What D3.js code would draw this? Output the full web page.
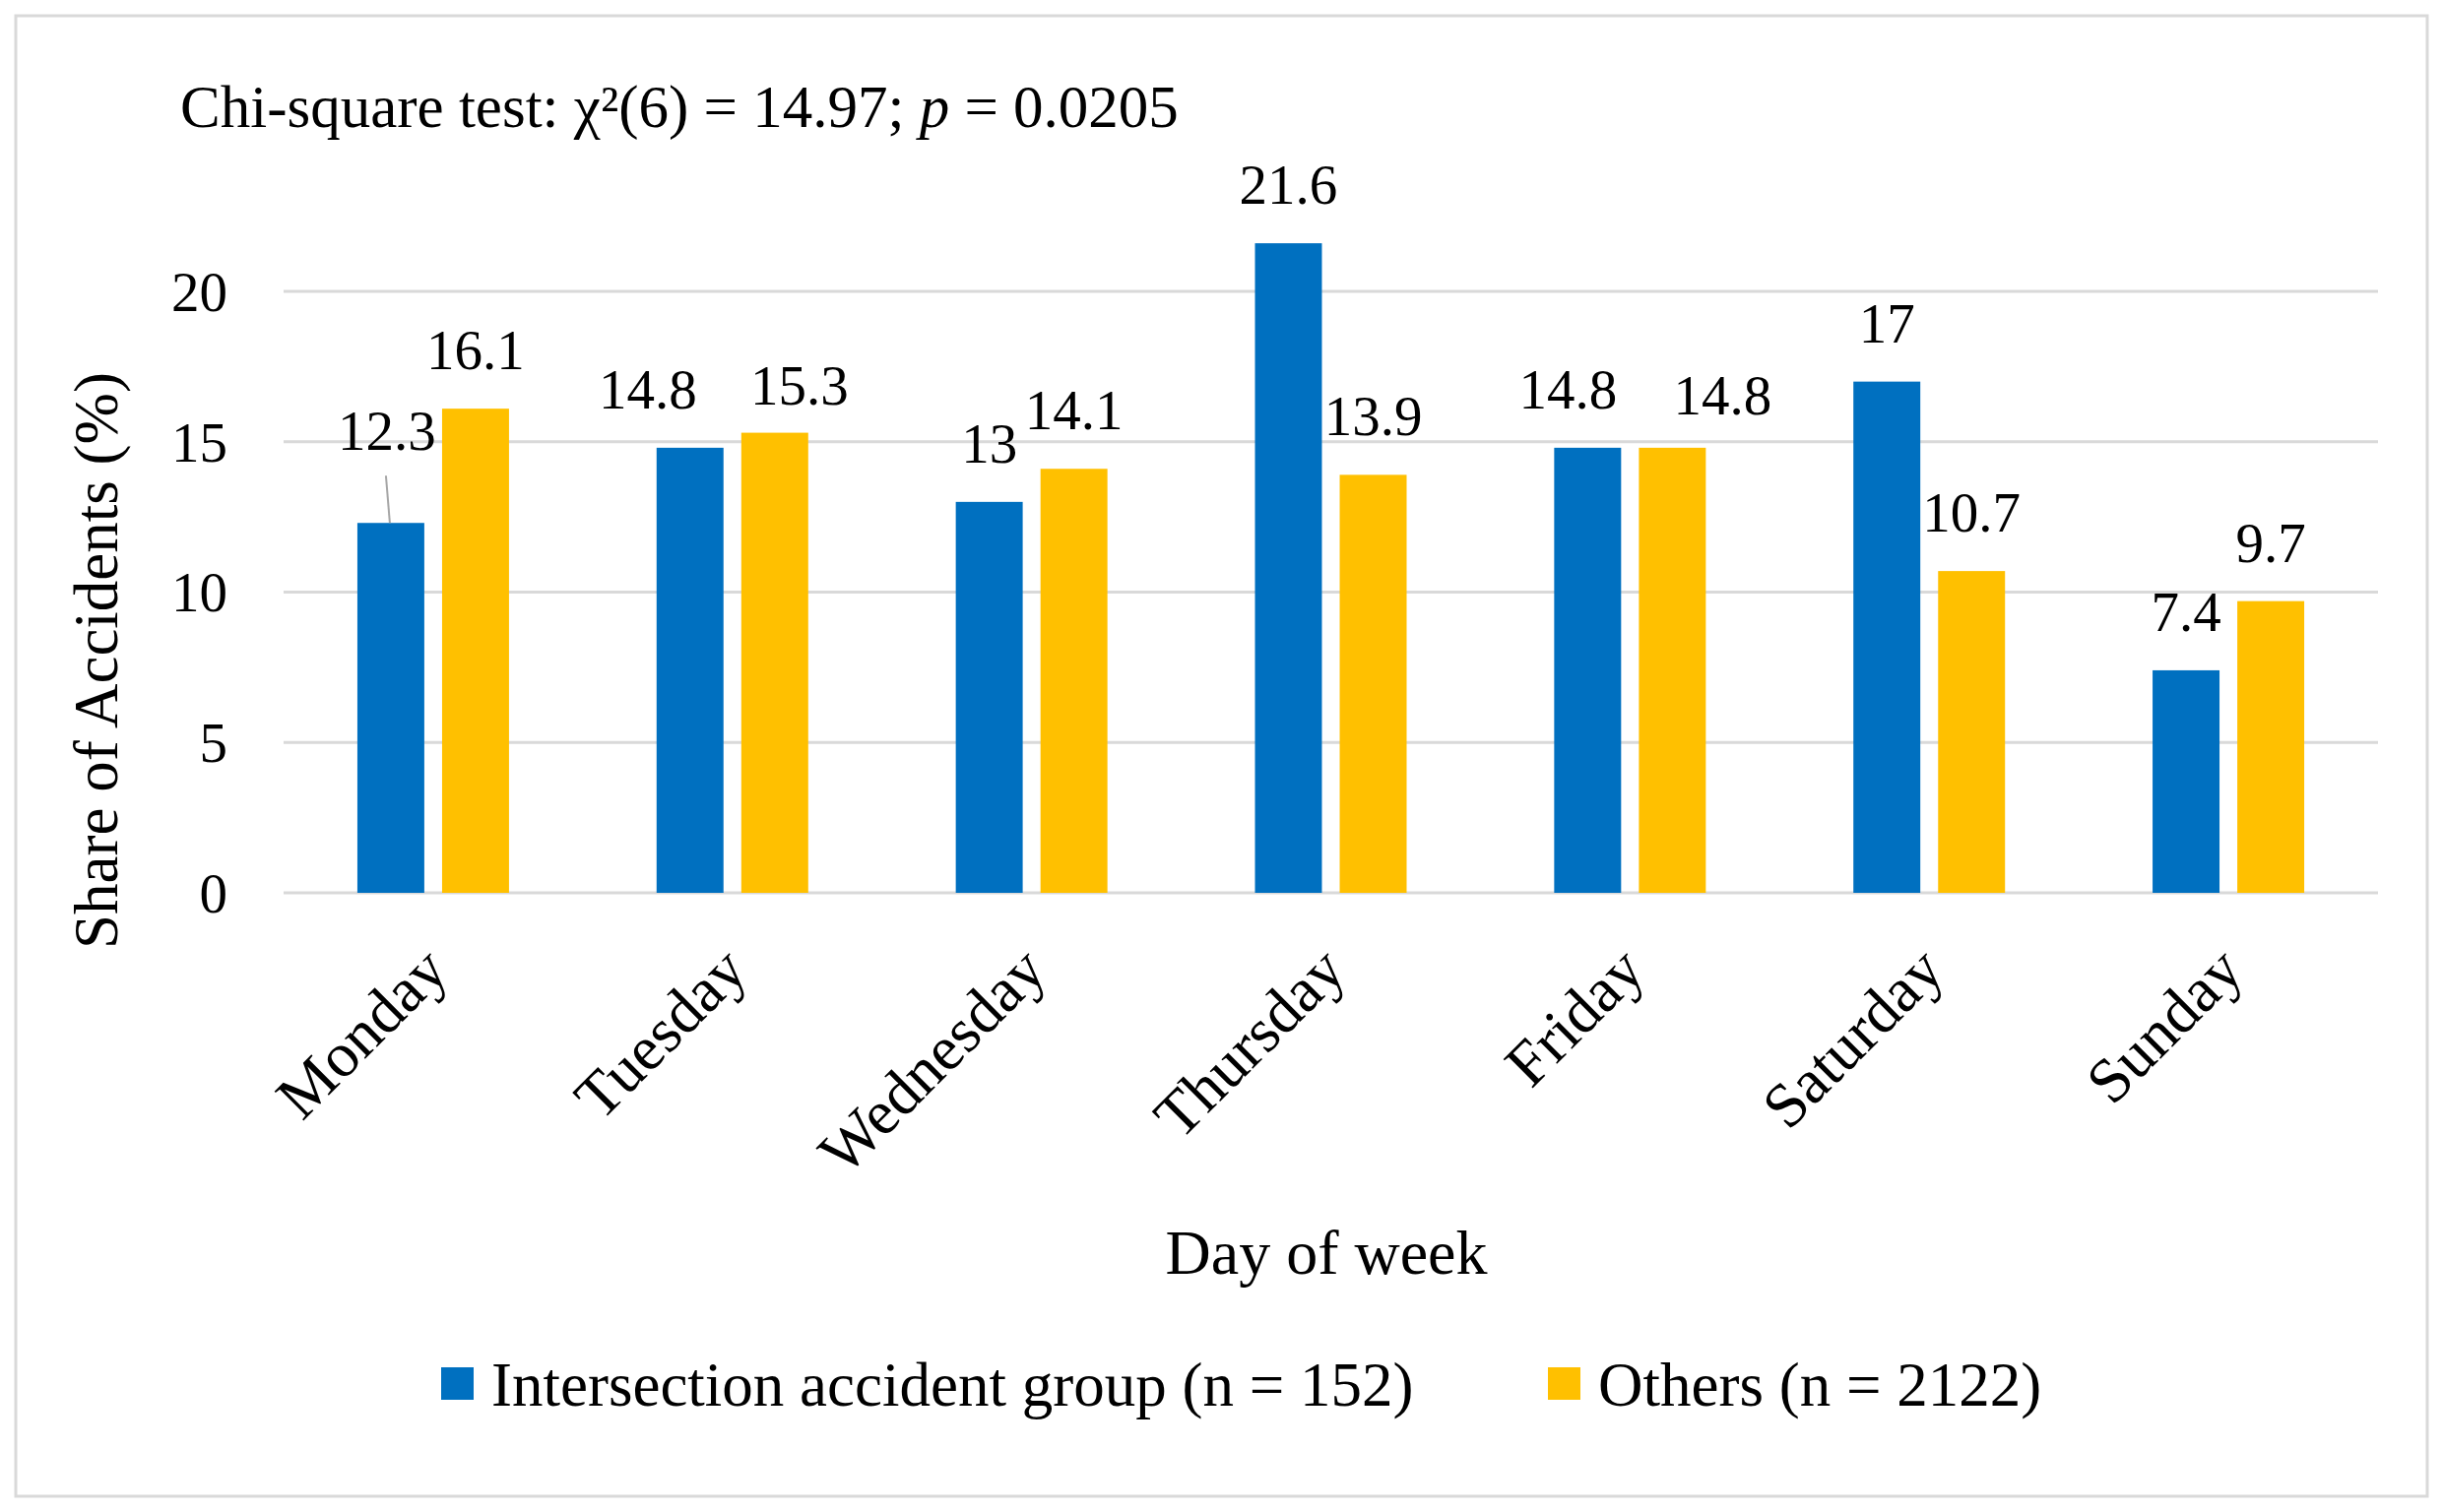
<!DOCTYPE html>
<html>
<head>
<meta charset="utf-8">
<script src="https://cdn.jsdelivr.net/npm/d3@7/dist/d3.min.js"></script>
<style>
  html, body { margin: 0; padding: 0; background: #ffffff; }
  svg { display: block; }
  text { font-family: "Liberation Serif", "DejaVu Serif", serif; fill: #000; }
</style>
</head>
<body>
<svg id="chart" width="2481" height="1536"></svg>
<script>
// ---- data ----
const days = ["Monday", "Tuesday", "Wednesday", "Thursday", "Friday", "Saturday", "Sunday"];
const seriesNames = ["Intersection accident group (n = 152)", "Others (n = 2122)"];
const intersection = [12.3, 14.8, 13, 21.6, 14.8, 17, 7.4];
const others = [16.1, 15.3, 14.1, 13.9, 14.8, 10.7, 9.7];
const yTicks = [0, 5, 10, 15, 20];
const colors = ["#0070C0", "#FFC000"];
const noteText = "Chi-square test: χ²(6) = 14.97; ";
const xTitle = "Day of week";
const yTitle = "Share of Accidents (%)";

// ---- layout / styling ----
const W = 2481, H = 1536;
const svg = d3.select("#chart");

// manual label nudges (as in the reference), keyed "series-day"
const labelNudge = {
  "0-1": [-43, 0], "1-1": [25, 11],
  "0-4": [-20, 0], "1-4": [51, 6]
};

svg.append("rect").attr("x", 16).attr("y", 16).attr("width", W - 32).attr("height", H - 32)
  .attr("fill", "#fff").attr("stroke", "#d9d9d9").attr("stroke-width", 3);

const plot = { left: 288, right: 2415, top: 296, bottom: 907 };

const x = d3.scaleBand().domain(days).range([plot.left, plot.right]).paddingInner(0).paddingOuter(0);
const groupW = 154;
const x1 = d3.scaleBand().domain([0, 1]).range([0, groupW]).paddingInner(0.21);
const y = d3.scaleLinear().domain([0, 20]).range([plot.bottom, plot.top]);

// gridlines
svg.append("g").selectAll("line").data(yTicks).join("line")
  .attr("x1", plot.left).attr("x2", plot.right)
  .attr("y1", d => y(d)).attr("y2", d => y(d))
  .attr("stroke", "#d9d9d9").attr("stroke-width", 3);

// y tick labels
const numSize = 57;
svg.append("g").selectAll("text").data(yTicks).join("text")
  .attr("x", 231).attr("y", d => y(d)).attr("dy", "0.35em")
  .attr("text-anchor", "end").attr("font-size", numSize).text(d => d);

// bars
const series = [intersection, others];
const bars = [];
series.forEach((vals, si) => vals.forEach((v, di) => bars.push({ si, di, v })));

const barX = d => x(days[d.di]) + x.bandwidth() / 2 - groupW / 2 + x1(d.si);
const barC = d => barX(d) + x1.bandwidth() / 2;

svg.append("g").selectAll("rect").data(bars).join("rect")
  .attr("x", barX).attr("width", x1.bandwidth())
  .attr("y", d => y(d.v)).attr("height", d => y(0) - y(d.v))
  .attr("fill", d => colors[d.si]);

// data labels (Monday intersection label is lifted with a leader line)
const isLifted = d => d.si === 0 && d.di === 0;
const nudge = d => labelNudge[d.si + "-" + d.di] || [0, 0];
svg.append("g").selectAll("text").data(bars).join("text")
  .attr("x", d => barC(d) + nudge(d)[0] + (isLifted(d) ? -4 : 0))
  .attr("y", d => y(d.v) - 40 + nudge(d)[1] - (isLifted(d) ? 34 : 0))
  .attr("text-anchor", "middle").attr("font-size", numSize)
  .text(d => d.v);

svg.append("g").selectAll("line").data(bars.filter(isLifted)).join("line")
  .attr("x1", d => barC(d) - 5).attr("y1", d => y(d.v) - 48)
  .attr("x2", d => barC(d) - 1).attr("y2", d => y(d.v))
  .attr("stroke", "#a6a6a6").attr("stroke-width", 2);

// x tick labels rotated
svg.append("g").selectAll("text").data(days).join("text")
  .attr("transform", d => `translate(${x(d) + x.bandwidth() / 2 + 2},${973}) rotate(-45)`)
  .attr("text-anchor", "end").attr("dy", "0.35em").attr("font-size", 64)
  .text(d => d);

// axis titles
svg.append("text").attr("x", 1347).attr("y", 1294).attr("text-anchor", "middle")
  .attr("font-size", 64).text(xTitle);
svg.append("text").attr("transform", "translate(97,671) rotate(-90)")
  .attr("text-anchor", "middle").attr("dy", "0.35em").attr("font-size", 63).text(yTitle);

// note
const note = svg.append("text").attr("x", 183).attr("y", 129).attr("font-size", 61);
note.append("tspan").text(noteText);
note.append("tspan").attr("font-style", "italic").text("p");
note.append("tspan").text(" = 0.0205");

// legend
const legX = [448, 1572];
const leg = svg.append("g").selectAll("g").data(seriesNames).join("g")
  .attr("transform", (d, i) => `translate(${legX[i]},1406)`);
leg.append("rect").attr("x", 0).attr("y", -17).attr("width", 33).attr("height", 33)
  .attr("fill", (d, i) => colors[i]);
leg.append("text").attr("x", 51).attr("y", 0).attr("dy", "0.35em")
  .attr("font-size", 63).text(d => d);
</script>
</body>
</html>
